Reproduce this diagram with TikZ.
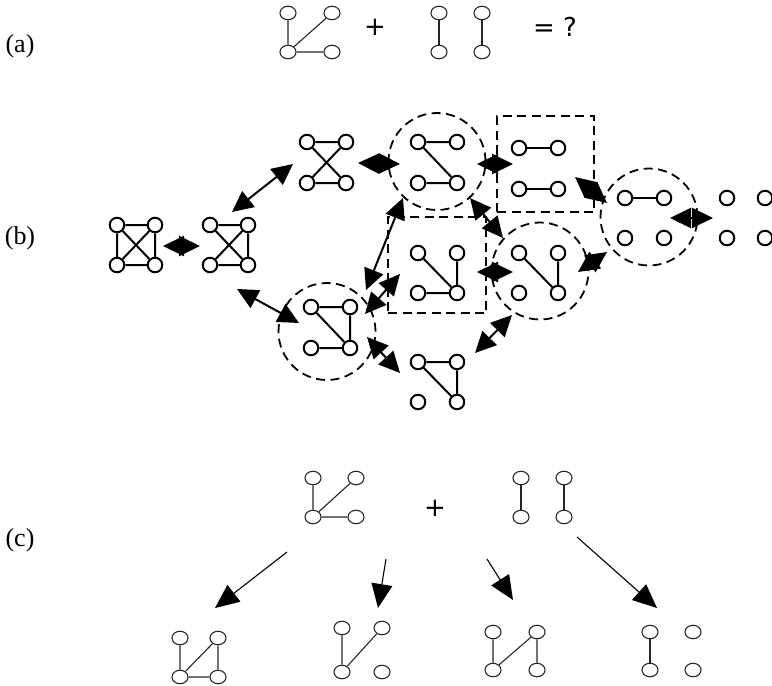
\documentclass[tikz,border=0pt]{standalone}
\usepackage{fontspec}
\setmainfont{Liberation Serif}
\newfontfamily\symfont{DejaVu Sans}
\usetikzlibrary{arrows.meta,shapes.geometric}

% four vertices of a small graph: a = top left, b = top right, c = bottom left, d = bottom right
\newcommand\vquad[6]{%
  \node[#2] (#1a) at (#3,#5) {};
  \node[#2] (#1b) at (#4,#5) {};
  \node[#2] (#1c) at (#3,#6) {};
  \node[#2] (#1d) at (#4,#6) {};}

\begin{document}
\begin{tikzpicture}[x=1pt,y=-1pt,
  thinv/.style={ellipse,draw=black!85,line width=1.1pt,minimum width=16pt,minimum height=13.5pt,inner sep=0pt},
  thickv/.style={circle,draw,line width=2pt,minimum size=14.5pt,inner sep=0pt,fill=white},
  thine/.style={draw=black!85,line width=1.1pt},
  thicke/.style={line width=2pt},
  trans/.style={line width=2pt,{Triangle[length=21pt,width=20pt]}-{Triangle[length=21pt,width=20pt]}},
  pick/.style={line width=1.1pt,-{Triangle[length=24pt,width=21pt]}},
  ring/.style={circle,draw,line width=1.8pt,dash pattern=on 9pt off 5.5pt,minimum size=97pt,inner sep=0pt},
  frame/.style={rectangle,draw,line width=1.8pt,dash pattern=on 9pt off 5.5pt,inner sep=0pt},
  lbl/.style={font=\fontsize{26}{30}\selectfont},
  sym/.style={font=\symfont\fontsize{26}{30}\selectfont}]
\useasboundingbox (0,0) rectangle (772,686);

% ---------- labels ----------
\node[lbl] (la) at (20,46) {(a)};
\node[lbl] (lb) at (20,238) {(b)};
\node[lbl] (lc) at (20,540) {(c)};

% ---------- (a) ----------
\vquad{A}{thinv}{288}{332}{13}{52}
\draw[thine] (Aa) -- (Ac) (Ac) -- (Ab) (Ac) -- (Ad);
\node[sym] (aplus) at (375,27) {+};
\vquad{B}{thinv}{439}{482}{13}{52}
\draw[thine] (Ba) -- (Bc) (Bb) -- (Bd);
\node[sym] (aeq) at (555,27) {= ?};

% ---------- (b) ----------
% dashed enclosures
\node[ring] (r1) at (437,161.5) {};
\node[ring] (r2) at (540,271) {};
\node[ring] (r3) at (327,331.5) {};
\node[ring] (r4) at (649,217) {};
\node[frame,minimum width=97pt,minimum height=96pt] (f1) at (545.5,164) {};
\node[frame,minimum width=98pt,minimum height=96pt] (f2) at (437,265) {};

% complete graph
\vquad{K}{thickv}{117}{155}{225}{265}
\draw[thicke] (Ka) -- (Kb) (Kc) -- (Kd) (Ka) -- (Kc) (Kb) -- (Kd) (Ka) -- (Kd) (Kb) -- (Kc);
% one edge removed
\vquad{H}{thickv}{210}{248}{225}{265}
\draw[thicke] (Ha) -- (Hb) (Hc) -- (Hd) (Hb) -- (Hd) (Ha) -- (Hd) (Hb) -- (Hc);
% bow tie
\vquad{X}{thickv}{307}{346}{142}{183}
\draw[thicke] (Xa) -- (Xb) (Xc) -- (Xd) (Xa) -- (Xd) (Xb) -- (Xc);
% Z shape
\vquad{Z}{thickv}{418}{457}{142}{183}
\draw[thicke] (Za) -- (Zb) (Zc) -- (Zd) (Za) -- (Zd);
% two parallel edges
\vquad{P}{thickv}{519}{558}{148}{189}
\draw[thicke] (Pa) -- (Pb) (Pc) -- (Pd);
% single edge
\vquad{R}{thickv}{625}{664}{198}{238}
\draw[thicke] (Ra) -- (Rb);
% empty graph
\vquad{E}{thickv}{727}{765}{198}{238}
% path of three edges
\vquad{Q}{thickv}{418}{457}{253}{293}
\draw[thicke] (Qa) -- (Qd) (Qb) -- (Qd) (Qc) -- (Qd);
% two edges
\vquad{N}{thickv}{519}{558}{253}{293}
\draw[thicke] (Na) -- (Nd) (Nb) -- (Nd);
% four edges
\vquad{S}{thickv}{311}{350}{307}{348}
\draw[thicke] (Sa) -- (Sb) (Sc) -- (Sd) (Sa) -- (Sd) (Sb) -- (Sd);
% triangle plus isolated vertex
\vquad{T}{thickv}{418}{457}{362}{402}
\draw[thicke] (Ta) -- (Tb) (Ta) -- (Td) (Tb) -- (Td);

% transition ends
\coordinate (t1a) at (163,246);  \coordinate (t1b) at (200,246);
\coordinate (t2a) at (232,212);  \coordinate (t2b) at (293,164);
\coordinate (t3a) at (237,289);  \coordinate (t3b) at (299,323);
\coordinate (t4a) at (358,163);  \coordinate (t4b) at (400,164);
\coordinate (t5a) at (477,164);  \coordinate (t5b) at (513,164);
\coordinate (t6a) at (575,177);  \coordinate (t6b) at (607,203);
\coordinate (t7a) at (670,218);  \coordinate (t7b) at (713,218);
\coordinate (t8a) at (470,198);  \coordinate (t8b) at (503,238);
\coordinate (t9a) at (403,198);  \coordinate (t9b) at (366,290);
\coordinate (t10a) at (400,274); \coordinate (t10b) at (365,314);
\coordinate (t11a) at (477,272); \coordinate (t11b) at (513,272);
\coordinate (t12a) at (578,272); \coordinate (t12b) at (607,252);
\coordinate (t13a) at (475,353); \coordinate (t13b) at (512,315);
\coordinate (t14a) at (367,337); \coordinate (t14b) at (400,373);
\foreach \k in {1,...,14} \draw[trans] (t\k a) -- (t\k b);

% ---------- (c) ----------
\vquad{C}{thinv}{313}{356}{478}{517}
\draw[thine] (Ca) -- (Cc) (Cc) -- (Cb) (Cc) -- (Cd);
\node[sym] (cplus) at (435,508) {+};
\vquad{D}{thinv}{521}{564}{478}{517}
\draw[thine] (Da) -- (Dc) (Db) -- (Dd);

\vquad{U}{thinv}{180}{218}{638}{677}
\draw[thine] (Ua) -- (Uc) (Uc) -- (Ub) (Uc) -- (Ud) (Ub) -- (Ud);
\vquad{V}{thinv}{342}{382}{628}{672}
\draw[thine] (Va) -- (Vc) (Vc) -- (Vb);
\vquad{W}{thinv}{493}{537}{632}{670}
\draw[thine] (Wa) -- (Wc) (Wc) -- (Wb) (Wb) -- (Wd);
\vquad{Y}{thinv}{650}{693}{632}{670}
\draw[thine] (Ya) -- (Yc);

\coordinate (p1a) at (287,552); \coordinate (p1b) at (215,608);
\coordinate (p2a) at (386,559); \coordinate (p2b) at (378,608);
\coordinate (p3a) at (487,559); \coordinate (p3b) at (513,600);
\coordinate (p4a) at (577,537); \coordinate (p4b) at (657,608);
\foreach \k in {1,...,4} \draw[pick] (p\k a) -- (p\k b);
\end{tikzpicture}
\end{document}
